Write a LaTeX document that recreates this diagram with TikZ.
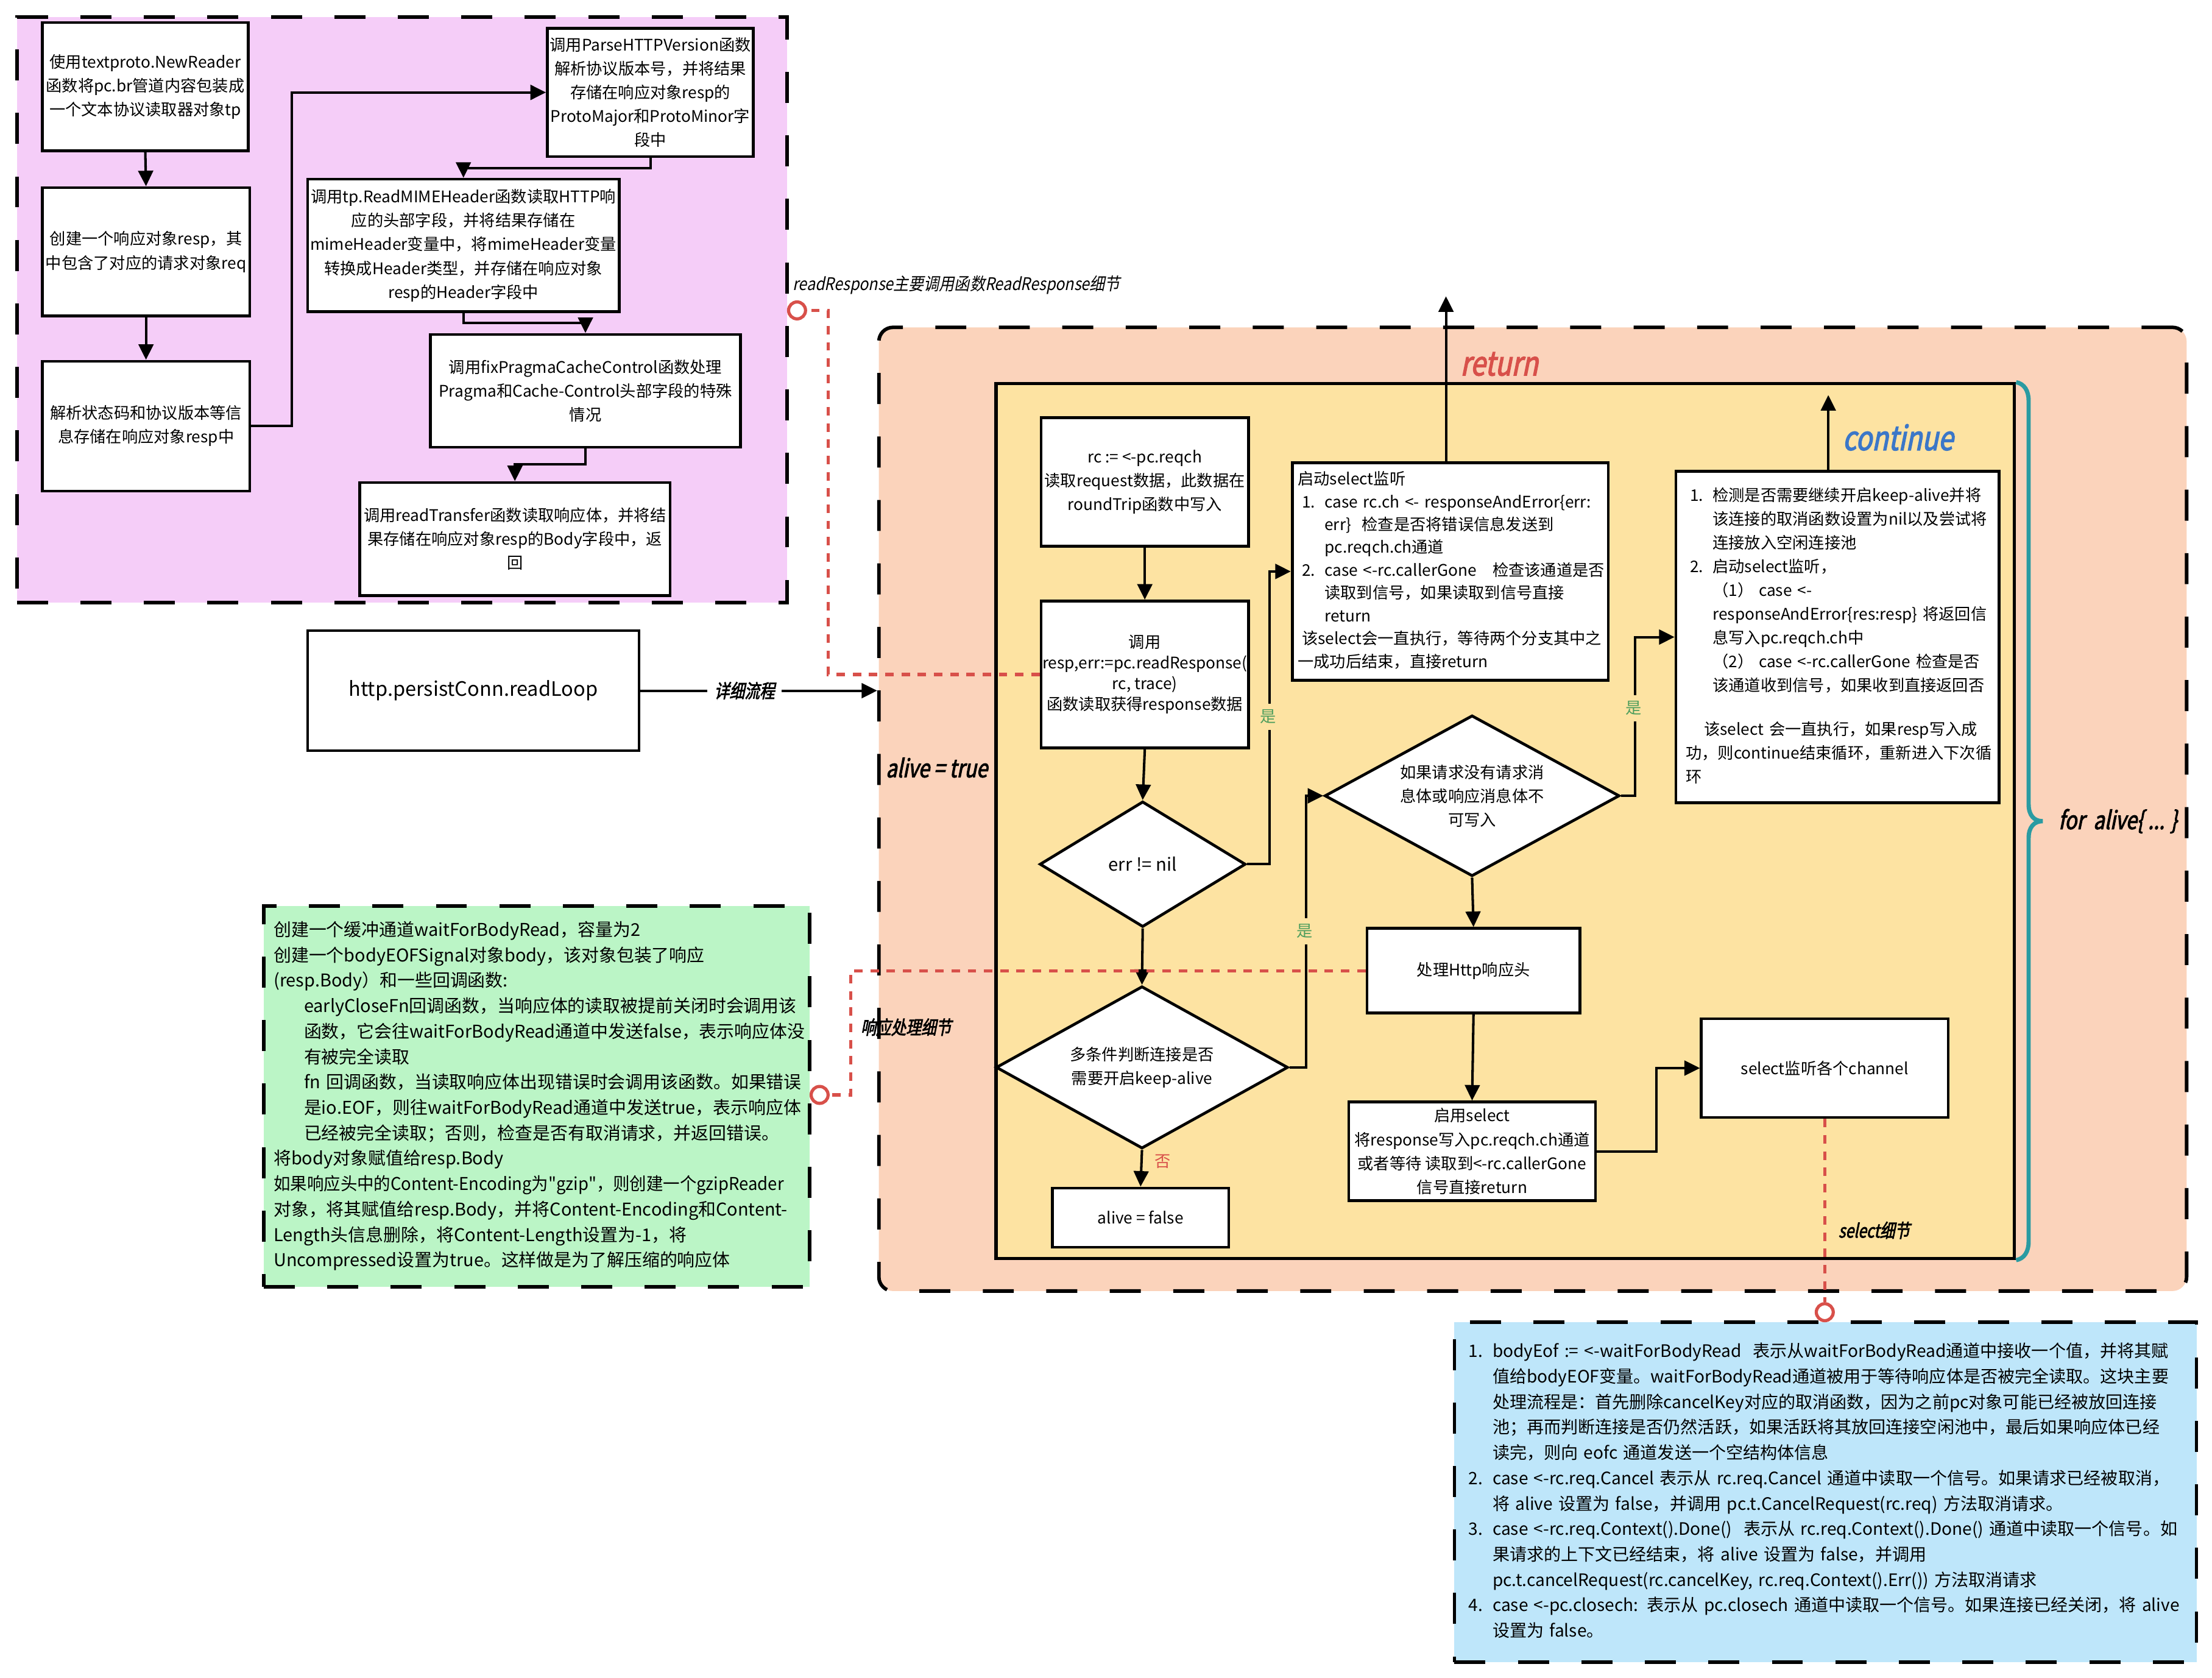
\documentclass[tikz,border=0pt]{standalone}
\usepackage{fontspec}
\usepackage{graphicx}
\setmainfont{Noto Sans CJK SC}
\newfontfamily\labfont[FakeSlant=0.2,FakeStretch=0.8,FakeBold=2.5]{Noto Sans CJK SC}
\newfontfamily\labfontl[FakeSlant=0.2,FakeStretch=0.88]{Noto Sans CJK SC}
\usetikzlibrary{arrows.meta,shapes.geometric}
\definecolor{pinkF}{HTML}{F5CDF8}
\definecolor{salF}{HTML}{FBD3BB}
\definecolor{yelF}{HTML}{FDE3A2}
\definecolor{grnF}{HTML}{BBF5C6}
\definecolor{bluF}{HTML}{BEE6FA}
\definecolor{redL}{HTML}{D8504A}
\definecolor{tealL}{HTML}{2A9BA2}
\definecolor{yesG}{HTML}{4E9E5D}
\definecolor{contB}{HTML}{3B77C8}
\newcommand\fa{\fontsize{6.45pt}{9.6pt}\selectfont}
\newcommand\fr{\fontsize{6.45pt}{8.3pt}\selectfont}
\newcommand\fb{\fontsize{7.1pt}{10.25pt}\selectfont}
\newcommand\fbs{\fontsize{6.9pt}{10.25pt}\selectfont}
\newcommand\tb[1]{\begin{tabular}{@{}l@{}}#1\end{tabular}}
\begin{document}
\begin{tikzpicture}[x=0.2mm,y=-0.2mm,
  box/.style={draw=black,fill=white,line width=0.4mm,align=center,inner sep=0.5pt,font=\fa},
  wh/.style 2 args={minimum width=#1*0.2mm,minimum height=#2*0.2mm},
  dia/.style={diamond,draw=black,fill=white,line width=0.4mm,align=center,inner sep=0pt,font=\fa},
  arr/.style={line width=0.35mm,-{Triangle[length=2.2mm,width=2.1mm]}},
  area/.style={draw=black,line width=0.5mm,dash pattern=on 4.4mm off 4.6mm},
  rdash/.style={draw=redL,line width=0.45mm,dash pattern=on 1.2mm off 1.1mm},
  rcirc/.style={circle,draw=redL,fill=white,line width=0.45mm,minimum size=2.4mm,inner sep=0pt},
  yes/.style={text=yesG,fill=yelF,font=\fa,inner xsep=1pt,inner ysep=2.5pt},
  lab/.style={font=\labfont\fontsize{7.6pt}{9pt}\selectfont},
  labbig/.style={font=\labfont\fontsize{13.5pt}{16pt}\selectfont},
  labmid/.style={font=\labfont\fontsize{10pt}{12pt}\selectfont}]
\fill[white] (0,0) rectangle (1568,1189);
\useasboundingbox (0,0) rectangle (1568,1189);

% ---------- pink area ----------
\node[area,fill=pinkF,wh={546}{415}] (pk) at (285,219.5) {};
\node[box,wh={146}{91}] (b1) at (103,61.5) {使用textproto.NewReader\\函数将pc.br管道内容包装成\\一个文本协议读取器对象tp};
\node[box,wh={147}{91}] (b2) at (103.5,178.5) {创建一个响应对象resp，其\\中包含了对应的请求对象req};
\node[box,wh={147}{92}] (b3) at (103.5,302) {解析状态码和协议版本等信\\息存储在响应对象resp中};
\node[box,wh={146}{91}] (b4) at (461,65.5) {调用ParseHTTPVersion函数\\解析协议版本号，并将结果\\存储在响应对象resp的\\ProtoMajor和ProtoMinor字\\段中};
\node[box,wh={221}{94}] (b5) at (328.5,174) {调用tp.ReadMIMEHeader函数读取HTTP响\\应的头部字段，并将结果存储在\\mimeHeader变量中，将mimeHeader变量\\转换成Header类型，并存储在响应对象\\resp的Header字段中};
\node[box,wh={220}{80}] (b6) at (415,277) {调用fixPragmaCacheControl函数处理\\Pragma和Cache-Control头部字段的特殊\\情况};
\node[box,wh={220}{80}] (b7) at (365,382) {调用readTransfer函数读取响应体，并将结\\果存储在响应对象resp的Body字段中，返\\回};
\draw[arr] (b1.south) -- (b2.north);
\draw[arr] (b2.south) -- (b3.north);
\draw[arr] (b3.east) -- ++(29,0) |- (b4.west);
\draw[arr] (b4.south) -- ++(0,7) -| (b5.north);
\draw[arr] (b5.south) -- ++(0,7) -| (b6.north);
\draw[arr] (b6.south) -- ++(0,11) -| (b7.north);

% ---------- loop area ----------
\node[area,fill=salF,rounded corners=2mm,wh={927}{683}] (loop) at (1086.5,573.5) {};
\node[draw=black,line width=0.45mm,fill=yelF,wh={722}{620}] (yb) at (1067,582) {};
\draw[tealL,line width=0.6mm] (yb.north east) .. controls (1435,272) and (1438,277) .. (1438,284)
  -- (1438,570) .. controls (1438,578) and (1442,582) .. (1448,582)
  .. controls (1442,582) and (1438,586) .. (1438,594)
  -- (1438,880) .. controls (1438,887) and (1435,892) .. (yb.south east);

\node[box,wh={235}{85},font=\fontsize{8pt}{10pt}\selectfont] (rl) at (335.5,489.5) {http.persistConn.readLoop};
\draw[arr] (rl.east) -- node[pos=0.44,fill=white,inner xsep=1mm,lab] {详细流程} (rl.east -| loop.west);

\node[labmid] at (664,544) {alive = true};
\node[labmid,anchor=west] at (1453,582) {for\ \ alive\{ ... \}};

\node[box,wh={147}{91}] (r1) at (811.5,341.5) {rc := <-pc.reqch\\读取request数据，此数据在\\roundTrip函数中写入};
\node[box,wh={147}{104},font=\fr] (r2) at (811.5,478) {调用\\resp,err:=pc.readResponse(\\rc, trace)\\函数读取获得response数据};
\node[dia,shape aspect=1.64,wh={146}{89},font=\fontsize{7.2pt}{9pt}\selectfont] (d1) at (810,612.5) {err != nil};
\node[box,wh={224}{154},align=left,text width=43.2mm,inner xsep=0.8mm,font=\fontsize{6.45pt}{9.2pt}\selectfont] (s1) at (1028,405) {\tb{启动select监听\\
\hspace*{0.6mm}\makebox[3.2mm][l]{1.}case rc.ch <- responseAndError\{err:\\
\hspace*{3.8mm}err\}\ \ 检查是否将错误信息发送到\\
\hspace*{3.8mm}pc.reqch.ch通道\\
\hspace*{0.6mm}\makebox[3.2mm][l]{2.}case <-rc.callerGone\ \ \ 检查该通道是否\\
\hspace*{3.8mm}读取到信号，如果读取到信号直接\\
\hspace*{3.8mm}return\\
\hspace*{0.6mm}该select会一直执行，等待两个分支其中之\\
一成功后结束，直接return}};
\node[dia,shape aspect=1.83,wh={209}{114}] (d2) at (1043.5,564) {如果请求没有请求消\\息体或响应消息体不\\可写入};
\node[box,wh={229}{235},align=left,text width=41.8mm,inner xsep=2mm] (c1) at (1302.5,451.5) {\tb{\makebox[3.2mm][l]{1.}检测是否需要继续开启keep-alive并将\\
\hspace*{3.2mm}该连接的取消函数设置为nil以及尝试将\\
\hspace*{3.2mm}连接放入空闲连接池\\
\makebox[3.2mm][l]{2.}启动select监听，\\
\hspace*{3.2mm}（1） case <-\\
\hspace*{3.2mm}responseAndError\{res:resp\} 将返回信\\
\hspace*{3.2mm}息写入pc.reqch.ch中\\
\hspace*{3.2mm}（2） case <-rc.callerGone 检查是否\\
\hspace*{3.2mm}该通道收到信号，如果收到直接返回否\\[8pt]
\hspace*{2mm}该select 会一直执行，如果resp写入成\\
\hspace*{-0.6mm}功，则continue结束循环，重新进入下次循\\
\hspace*{-0.6mm}环}};
\node[box,wh={151}{60}] (h1) at (1044.5,688) {处理Http响应头};
\node[box,wh={175}{70}] (s2) at (1043.5,816) {启用select\\将response写入pc.reqch.ch通道\\或者等待 读取到<-rc.callerGone\\信号直接return};
\node[box,wh={175}{70}] (sc) at (1293.5,757) {select监听各个channel};
\node[dia,shape aspect=1.8,wh={207}{115}] (d3) at (809.5,756.5) {多条件判断连接是否\\需要开启keep-alive};
\node[box,wh={125}{42}] (f1) at (808.5,863) {alive = false};

\draw[arr] (r1.south) -- (r2.north);
\draw[arr] (r2.south) -- (d1.north);
\draw[arr] (d1.east) -- ++(16,0) |- (s1.west);
\node[yes] at (899,508) {是};
\coordinate (ret) at (1025,210);
\draw[arr] (ret |- s1.north) -- (ret);
\node[labbig,anchor=west,text=redL] at (1029,258) {return};
\draw[arr] (d1.south) -- (d3.north);
\draw[arr] (d3.east) -- ++(12,0) |- (d2.west);
\node[yes] at (925,660) {是};
\draw[arr] (d2.east) -- ++(10,0) |- (c1.west);
\node[yes] at (1158,502) {是};
\coordinate (cont) at (1296,280);
\draw[arr] (cont |- c1.north) -- (cont);
\node[labbig,anchor=west,text=contB] at (1300,310) {continue};
\draw[arr] (d2.south) -- (h1.north);
\draw[arr] (h1.south) -- (s2.north);
\draw[arr] (s2.east) -- ++(42,0) |- (sc.west);
\draw[arr] (d3.south) -- (f1.north);
\node[text=redL,font=\fa] at (824,823) {否};

% ---------- green note ----------
\node[area,fill=grnF,wh={387}{270},align=left,text width=74.6mm,inner xsep=1.4mm,inner ysep=0pt,font=\fb] (gb) at (380.5,777) {\tb{创建一个缓冲通道waitForBodyRead，容量为2\\
创建一个bodyEOFSignal对象body，该对象包装了响应\\
(resp.Body）和一些回调函数:\\
\hspace*{4.3mm}earlyCloseFn回调函数，当响应体的读取被提前关闭时会调用该\\
\hspace*{4.3mm}函数，它会往waitForBodyRead通道中发送false，表示响应体没\\
\hspace*{4.3mm}有被完全读取\\
\hspace*{4.3mm}fn 回调函数，当读取响应体出现错误时会调用该函数。如果错误\\
\hspace*{4.3mm}是io.EOF，则往waitForBodyRead通道中发送true，表示响应体\\
\hspace*{4.3mm}已经被完全读取；否则，检查是否有取消请求，并返回错误。\\
将body对象赋值给resp.Body\\
\scalebox{0.95}[1]{如果响应头中的Content-Encoding为\textquotedbl gzip\textquotedbl，则创建一个gzipReader}\\
对象，将其赋值给resp.Body，并将Content-Encoding和Content-\\
Length头信息删除，将Content-Length设置为-1，将\\
Uncompressed设置为true。这样做是为了解压缩的响应体}};

% ---------- blue note ----------
\node[area,fill=bluF,wh={526}{241},align=left,text width=101.2mm,inner xsep=2mm,inner ysep=0pt,font=\fbs] (bb) at (1294,1057.5) {\tb{\makebox[3.4mm][l]{1.}bodyEof := <-waitForBodyRead\ \ 表示从waitForBodyRead通道中接收一个值，并将其赋\\
\hspace*{3.4mm}值给bodyEOF变量。waitForBodyRead通道被用于等待响应体是否被完全读取。这块主要\\
\hspace*{3.4mm}处理流程是：首先删除cancelKey对应的取消函数，因为之前pc对象可能已经被放回连接\\
\hspace*{3.4mm}池；再而判断连接是否仍然活跃，如果活跃将其放回连接空闲池中，最后如果响应体已经\\
\hspace*{3.4mm}读完，则向 eofc 通道发送一个空结构体信息\\
\makebox[3.4mm][l]{2.}case <-rc.req.Cancel 表示从 rc.req.Cancel 通道中读取一个信号。如果请求已经被取消，\\
\hspace*{3.4mm}将 alive 设置为 false，并调用 pc.t.CancelRequest(rc.req) 方法取消请求。\\
\makebox[3.4mm][l]{3.}case <-rc.req.Context().Done()\ \ 表示从 rc.req.Context().Done() 通道中读取一个信号。如\\
\hspace*{3.4mm}果请求的上下文已经结束，将 alive 设置为 false，并调用\\
\hspace*{3.4mm}pc.t.cancelRequest(rc.cancelKey, rc.req.Context().Err()) 方法取消请求\\
\makebox[3.4mm][l]{4.}case <-pc.closech: 表示从 pc.closech 通道中读取一个信号。如果连接已经关闭，将 alive\\
\hspace*{3.4mm}设置为 false。}};

% ---------- red detail links ----------
\node[rcirc] (o1) at (565,220) {};
\coordinate (k1) at (587,220);
\draw[rdash] (r2.west) -| (k1) -- (o1.east);
\node[font=\labfontl\fontsize{7pt}{9pt}\selectfont] at (678,202) {readResponse主要调用函数ReadResponse细节};

\node[rcirc] (o2) at (581,776) {};
\coordinate (k2) at (603,776);
\draw[rdash] (h1.west) -| (k2) -- (o2.east);
\node[lab,anchor=west] at (604,728) {响应处理细节};

\node[rcirc] (o3) at (1293.5,930) {};
\draw[rdash] (sc.south) -- (o3.north);
\node[lab,anchor=west] at (1297,872) {select细节};
\end{tikzpicture}
\end{document}
